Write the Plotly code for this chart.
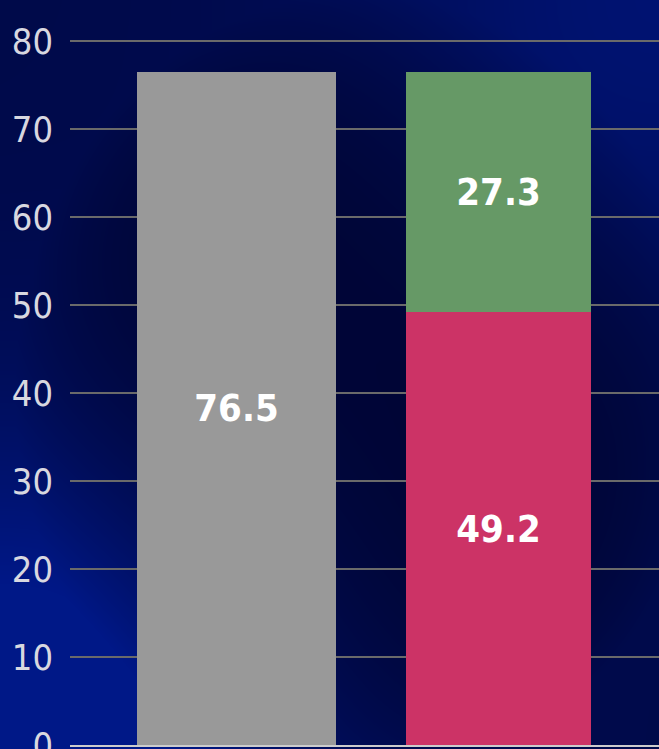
import base64
import struct
import zlib

import numpy as np
import plotly.graph_objects as go

# ---- data ----
categories = ["Total", "Breakdown"]
total_values = [76.5]
part_a_values = [49.2]
part_b_values = [27.3]
y_ticks = [0, 10, 20, 30, 40, 50, 60, 70, 80]

W, H = 659, 749
ML, MB, MT, MR = 70, 4, 0, 0
PW, PH = W - ML - MR, H - MT - MB
PX_PER_UNIT = 8.8
Y_MAX = PH / PX_PER_UNIT


# ---- background gradient image ----
def make_png(arr):
    h, w, _ = arr.shape
    raw = b"".join(b"\x00" + arr[i].tobytes() for i in range(h))

    def chunk(tag, data):
        return (struct.pack(">I", len(data)) + tag + data +
                struct.pack(">I", zlib.crc32(tag + data) & 0xFFFFFFFF))

    return (b"\x89PNG\r\n\x1a\n" +
            chunk(b"IHDR", struct.pack(">IIBBBBB", w, h, 8, 2, 0, 0, 0)) +
            chunk(b"IDAT", zlib.compress(raw, 9)) +
            chunk(b"IEND", b""))


yy, xx = np.mgrid[0:H, 0:W].astype(float)
d_bl = np.hypot(xx - 0, yy - H)
d_tr = np.hypot(xx - W, yy - 0)
glow_bl = 0.95 * np.exp(-(d_bl / 300.0) ** 2)
glow_tr = 0.45 * np.exp(-(d_tr / 300.0) ** 2)
r2 = ((xx - 360) / 330.0) ** 2 + ((yy - 390) / 380.0) ** 2
vign = np.clip(0.25 * r2 ** 2, 0, 0.3)
t = np.clip(glow_bl + glow_tr + vign, 0, 1)[..., None]
dark = np.array([0, 4, 48], float)
bright = np.array([0, 24, 135], float)
img = (dark + (bright - dark) * t).clip(0, 255).astype(np.uint8)
uri = "data:image/png;base64," + base64.b64encode(make_png(img)).decode()

# ---- figure ----
FONT = "DejaVu Sans Condensed, Liberation Sans Narrow, Arial Narrow, sans-serif"
label_font = dict(family=FONT, size=38, color="white", weight="bold")

fig = go.Figure()
fig.add_trace(go.Bar(x=[categories[0]], y=total_values, width=0.76,
                     marker=dict(color="#999999", line=dict(width=0)),
                     text=[f"{v:.1f}" for v in total_values],
                     textposition="inside", insidetextanchor="middle",
                     textfont=label_font, hoverinfo="skip"))
fig.add_trace(go.Bar(x=[categories[1]], y=part_a_values, width=0.706,
                     marker=dict(color="#CC3366", line=dict(width=0)),
                     text=[f"{v:.1f}" for v in part_a_values],
                     textposition="inside", insidetextanchor="middle",
                     textfont=label_font, hoverinfo="skip"))
fig.add_trace(go.Bar(x=[categories[1]], y=part_b_values, width=0.706,
                     marker=dict(color="#669966", line=dict(width=0)),
                     text=[f"{v:.1f}" for v in part_b_values],
                     textposition="inside", insidetextanchor="middle",
                     textfont=label_font, hoverinfo="skip"))

fig.update_layout(
    width=W, height=H,
    margin=dict(l=ML, r=MR, t=MT, b=MB, pad=0, autoexpand=False),
    barmode="stack",
    showlegend=False,
    paper_bgcolor="#000838",
    plot_bgcolor="rgba(0,0,0,0)",
    images=[dict(source=uri, xref="paper", yref="paper",
                 x=-ML / PW, y=1 + MT / PH, sizex=W / PW, sizey=H / PH,
                 xanchor="left", yanchor="top", sizing="stretch",
                 layer="below")],
    xaxis=dict(type="category", range=[-0.6355, 1.6126], showticklabels=False,
               showgrid=False, zeroline=False, showline=True, automargin=False,
               linecolor="#cccccc", linewidth=2, ticks=""),
    yaxis=dict(range=[0, Y_MAX], tickvals=y_ticks, ticktext=[str(v) for v in y_ticks],
               showgrid=True, gridcolor="#6a6a6a", gridwidth=2, automargin=False,
               zeroline=False, showline=False, ticks="",
               ticklabelstandoff=16, ticklabeloverflow="allow",
               tickfont=dict(family=FONT, size=36, color="#d8d8e0")),
)

fig.write_html(
    "out.html",
    config={"displayModeBar": False},
    post_script="document.body.style.margin='0';document.body.style.overflow='hidden';",
)
